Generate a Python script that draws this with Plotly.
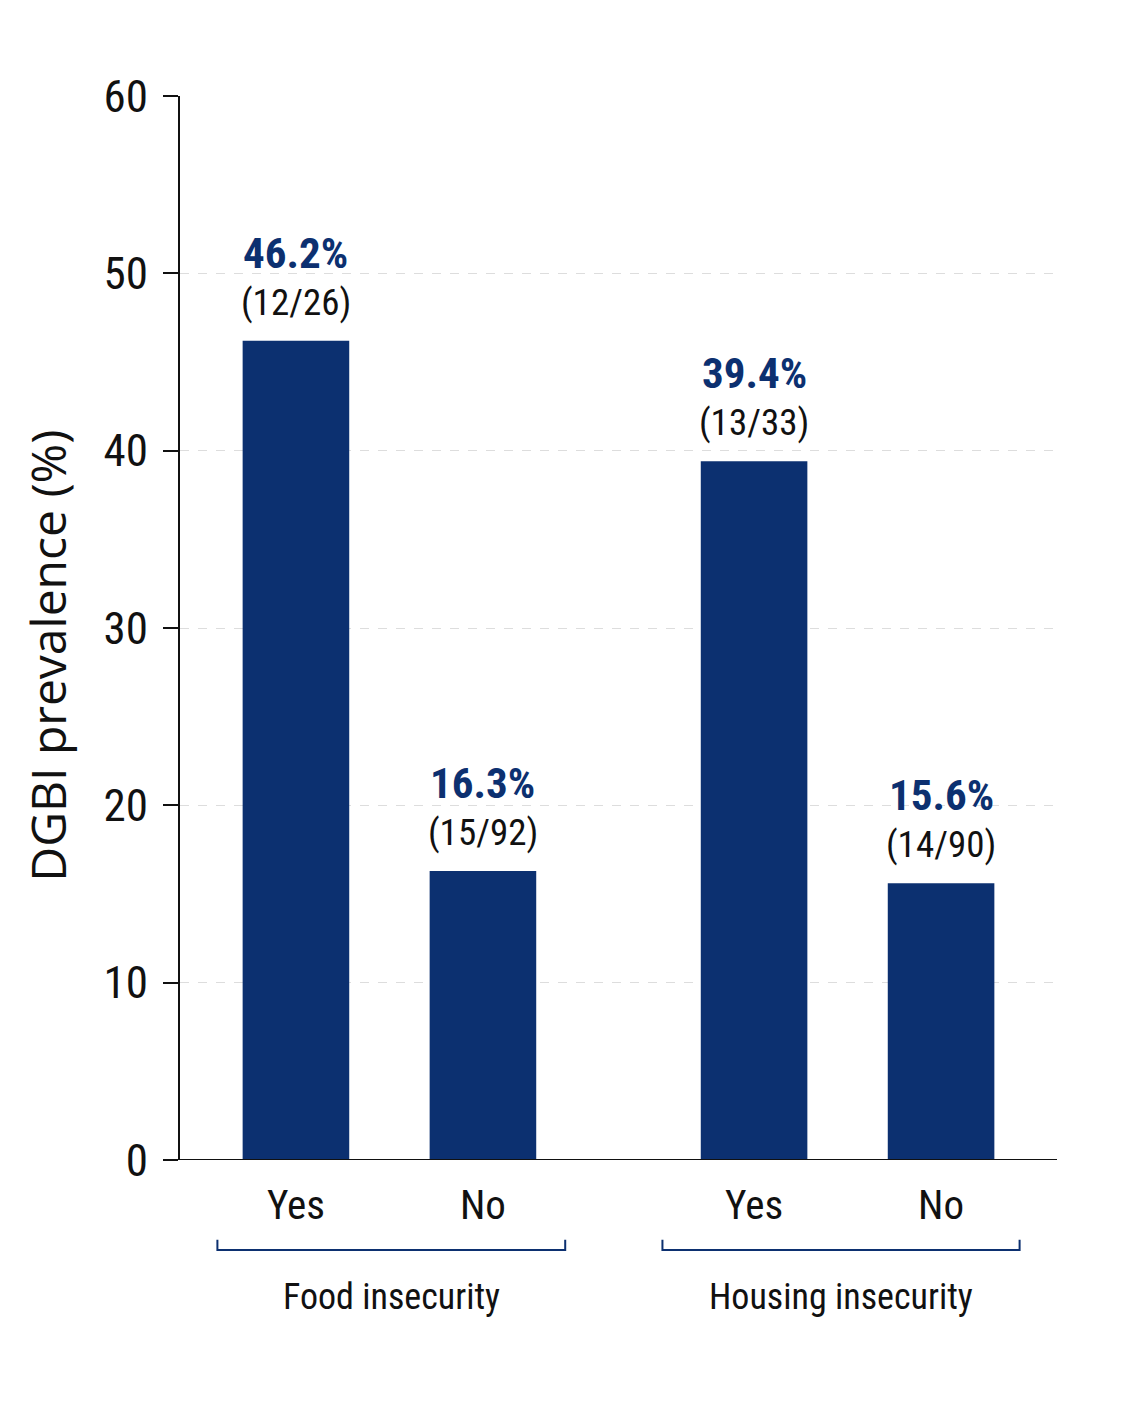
import plotly.graph_objects as go

# bar data
positions = [0, 1, 2.45, 3.45]
tick_labels = ["Yes", "No", "Yes", "No"]
prevalence = [46.2, 16.3, 39.4, 15.6]
counts = ["(12/26)", "(15/92)", "(13/33)", "(14/90)"]
groups = ["Food insecurity", "Housing insecurity"]
group_spans = [(-0.42, 1.44), (1.96, 3.87)]

navy = "#0c3070"
font_family = "Roboto Condensed, Roboto, Arial, sans-serif"
title_family = "Open Sans, Roboto, Arial, sans-serif"

fig = go.Figure()
fig.add_trace(
    go.Bar(
        x=positions,
        y=prevalence,
        width=0.57,
        marker=dict(color=navy, line=dict(width=0)),
        hoverinfo="skip",
    )
)

# value labels above each bar
for xp, val, cnt in zip(positions, prevalence, counts):
    fig.add_annotation(
        x=xp, y=val, text=f"<b>{val}%</b>", showarrow=False,
        yanchor="bottom", yshift=61,
        font=dict(size=43, color=navy, family=font_family),
    )
    fig.add_annotation(
        x=xp, y=val, text=cnt, showarrow=False,
        yanchor="bottom", yshift=15,
        font=dict(size=37, color="#111111", family=font_family),
    )

# group brackets and labels under the axis
for name, (x0, x1) in zip(groups, group_spans):
    fig.add_shape(
        type="path", xref="x", yref="paper",
        path=f"M {x0} -0.075 L {x0} -0.0846 L {x1} -0.0846 L {x1} -0.075",
        line=dict(color=navy, width=2),
    )
    fig.add_annotation(
        x=(x0 + x1) / 2, y=-0.129, xref="x", yref="paper",
        text=name, showarrow=False, yanchor="middle",
        font=dict(size=36, color="#111111", family=font_family),
    )

# x baseline extending left of the y axis
fig.add_shape(
    type="line", xref="paper", yref="y",
    x0=-0.017, x1=1, y0=0, y1=0,
    line=dict(color="#111111", width=2),
)

fig.add_annotation(
    x=-0.1505, y=0.474, xref="paper", yref="paper",
    xanchor="center", yanchor="middle",
    text="DGBI prevalence (%)", textangle=-90, showarrow=False,
    font=dict(size=48, color="#111111", family=title_family),
)

fig.update_layout(
    width=1122,
    height=1402,
    margin=dict(l=172, r=73, t=88, b=250),
    plot_bgcolor="white",
    paper_bgcolor="white",
    showlegend=False,
    font=dict(family=font_family, color="#111111"),
    xaxis=dict(
        range=[-0.62, 4.07],
        tickmode="array",
        tickvals=positions,
        ticktext=tick_labels,
        tickfont=dict(size=41),
        showgrid=False,
        showline=False,
        zeroline=False,
        ticks="",
        ticklabelstandoff=17,
    ),
    yaxis=dict(
        range=[0, 60],
        tickvals=[0, 10, 20, 30, 40, 50, 60],
        tickfont=dict(size=45),
        showline=True,
        linecolor="#111111",
        linewidth=2,
        ticks="outside",
        ticklen=15,
        tickwidth=2,
        tickcolor="#111111",
        ticklabelstandoff=6,
        showgrid=True,
        gridcolor="#dddddd",
        griddash="dash",
        gridwidth=1,
        zeroline=False,
    ),
)

fig.write_html("out.html")
